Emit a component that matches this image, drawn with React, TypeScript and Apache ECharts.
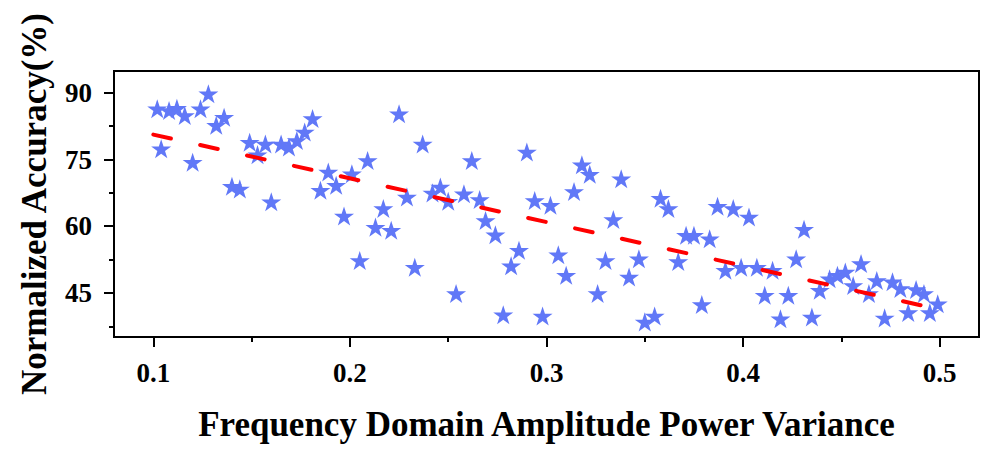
import React, { useEffect, useRef } from "react";
import * as echarts from "echarts";

// Scatter data: [power variance, normalized accuracy %]
const xValues: number[] = [
  0.102, 0.108, 0.112, 0.116, 0.104, 0.128, 0.124, 0.120, 0.136, 0.132,
  0.140, 0.144, 0.149, 0.153, 0.157, 0.160, 0.165, 0.169, 0.173, 0.177,
  0.181, 0.189, 0.193, 0.185, 0.201, 0.209, 0.197, 0.217, 0.213, 0.221,
  0.205, 0.225, 0.237, 0.262, 0.290, 0.229, 0.242, 0.246, 0.250, 0.258,
  0.266, 0.269, 0.274, 0.286, 0.282, 0.233, 0.254, 0.278, 0.294, 0.318,
  0.322, 0.338, 0.314, 0.302, 0.334, 0.358, 0.362, 0.306, 0.310, 0.330,
  0.347, 0.342, 0.326, 0.298, 0.350, 0.355, 0.387, 0.395, 0.403, 0.371,
  0.375, 0.383, 0.367, 0.391, 0.399, 0.407, 0.415, 0.411, 0.423, 0.379,
  0.419, 0.431, 0.427, 0.439, 0.444, 0.448, 0.452, 0.460, 0.456, 0.464,
  0.468, 0.476, 0.480, 0.488, 0.492, 0.499, 0.435, 0.472, 0.484, 0.495,
];
const yValues: number[] = [
  86.4, 86.0, 86.5, 84.9, 77.4, 89.8, 86.4, 74.4, 84.5, 82.7,
  69.0, 68.4, 78.9, 76.1, 78.5, 65.5, 78.5, 77.8, 79.3, 81.2,
  84.2, 72.2, 69.2, 68.1, 71.8, 74.8, 62.3, 64.0, 59.8, 59.1,
  52.3, 85.3, 78.5, 74.8, 76.7, 66.6, 67.5, 68.8, 65.6, 67.3,
  66.0, 61.3, 58.1, 54.6, 51.1, 50.8, 44.9, 40.1, 65.8, 73.8,
  71.7, 70.7, 67.8, 64.7, 61.5, 66.3, 64.0, 53.6, 49.0, 52.3,
  52.7, 48.6, 44.9, 39.8, 38.5, 39.8, 64.5, 64.0, 62.1, 58.0,
  58.0, 57.2, 52.1, 50.1, 50.8, 50.8, 50.1, 44.5, 44.5, 42.4,
  39.2, 59.3, 52.7, 45.6, 48.2, 49.0, 49.7, 51.6, 46.7, 44.9,
  47.8, 47.5, 46.0, 45.8, 44.9, 42.6, 39.6, 39.4, 40.6, 40.6,
];

// Linear trend line end points
const trendX: number[] = [0.1, 0.5];
const trendY: number[] = [80.6, 41.3];

// Ticks
const xMajorTicks: number[] = [0.1, 0.2, 0.3, 0.4, 0.5];
const xMinorTicks: number[] = [0.15, 0.25, 0.35, 0.45];
const yMajorTicks: number[] = [45, 60, 75, 90];
const yMinorTicks: number[] = [37.5, 52.5, 67.5, 82.5];

const X_MIN = 0.08;
const X_MAX = 0.52;
const Y_MIN = 35.1;
const Y_MAX = 94.9;

const STAR =
  "path://M50,0L61.23,34.55L97.55,34.55L68.17,55.9L79.39,90.45L50,69.1L20.61,90.45L31.83,55.9L2.45,34.55L38.77,34.55Z";

const FONT = "'Liberation Serif', 'Times New Roman', serif";

export default function App() {
  const ref = useRef<HTMLDivElement>(null);

  useEffect(() => {
    if (!ref.current) return;
    const chart = echarts.init(ref.current, undefined, { renderer: "svg" });

    const scatterData = xValues.map((x, i) => [x, yValues[i]]);
    const trendData = trendX.map((x, i) => [x, trendY[i]]);

    const labelStyle = {
      fontFamily: FONT,
      fontWeight: "bold" as const,
      fontSize: 27,
      color: "#000",
    };

    chart.setOption({
      animation: false,
      backgroundColor: "#fff",
      grid: {
        left: 114,
        right: 13,
        top: 71,
        bottom: 116,
        show: true,
        borderColor: "#000",
        borderWidth: 2,
        backgroundColor: "transparent",
      },
      xAxis: [
        {
          type: "value",
          min: X_MIN,
          max: X_MAX,
          position: "bottom",
          name: "Frequency Domain Amplitude Power Variance",
          nameLocation: "middle",
          nameGap: 70,
          nameTextStyle: {
            fontFamily: FONT,
            fontWeight: "bold",
            fontSize: 35,
            color: "#000",
          },
          axisLine: { show: false },
          splitLine: { show: false },
          axisTick: {
            show: true,
            inside: false,
            length: 10,
            lineStyle: { color: "#000", width: 2 },
            customValues: xMajorTicks,
          },
          axisLabel: {
            ...labelStyle,
            margin: 22,
            customValues: xMajorTicks,
            formatter: (v: number) => Number(v).toFixed(1),
          },
        },
        {
          type: "value",
          min: X_MIN,
          max: X_MAX,
          position: "bottom",
          axisLine: { show: false },
          splitLine: { show: false },
          axisLabel: { show: false },
          axisTick: {
            show: true,
            inside: false,
            length: 5,
            lineStyle: { color: "#000", width: 2 },
            customValues: xMinorTicks,
          },
        },
      ],
      yAxis: [
        {
          type: "value",
          min: Y_MIN,
          max: Y_MAX,
          position: "left",
          name: "Normalized Accuracy(%)",
          nameLocation: "middle",
          nameGap: 62,
          nameTextStyle: {
            fontFamily: FONT,
            fontWeight: "bold",
            fontSize: 35,
            color: "#000",
          },
          axisLine: { show: false },
          splitLine: { show: false },
          axisTick: {
            show: true,
            inside: false,
            length: 10,
            lineStyle: { color: "#000", width: 2 },
            customValues: yMajorTicks,
          },
          axisLabel: {
            ...labelStyle,
            margin: 22,
            customValues: yMajorTicks,
          },
        },
        {
          type: "value",
          min: Y_MIN,
          max: Y_MAX,
          position: "left",
          axisLine: { show: false },
          splitLine: { show: false },
          axisLabel: { show: false },
          axisTick: {
            show: true,
            inside: false,
            length: 5,
            lineStyle: { color: "#000", width: 2 },
            customValues: yMinorTicks,
          },
        },
      ],
      series: [
        {
          type: "scatter",
          xAxisIndex: 0,
          yAxisIndex: 0,
          data: scatterData,
          symbol: STAR,
          symbolKeepAspect: true,
          symbolSize: 20,
          itemStyle: { color: "#6178F7", opacity: 1 },
          z: 2,
        },
        {
          type: "line",
          xAxisIndex: 0,
          yAxisIndex: 0,
          data: trendData,
          symbol: "none",
          lineStyle: {
            color: "#ff0000",
            width: 4,
            type: [18, 30],
            cap: "round",
          },
          z: 3,
        },
      ],
    });

    return () => {
      chart.dispose();
    };
  }, []);

  return (
    <div
      ref={ref}
      style={{
        position: "fixed",
        left: 0,
        top: 0,
        width: 992,
        height: 453,
        background: "#fff",
      }}
    />
  );
}
